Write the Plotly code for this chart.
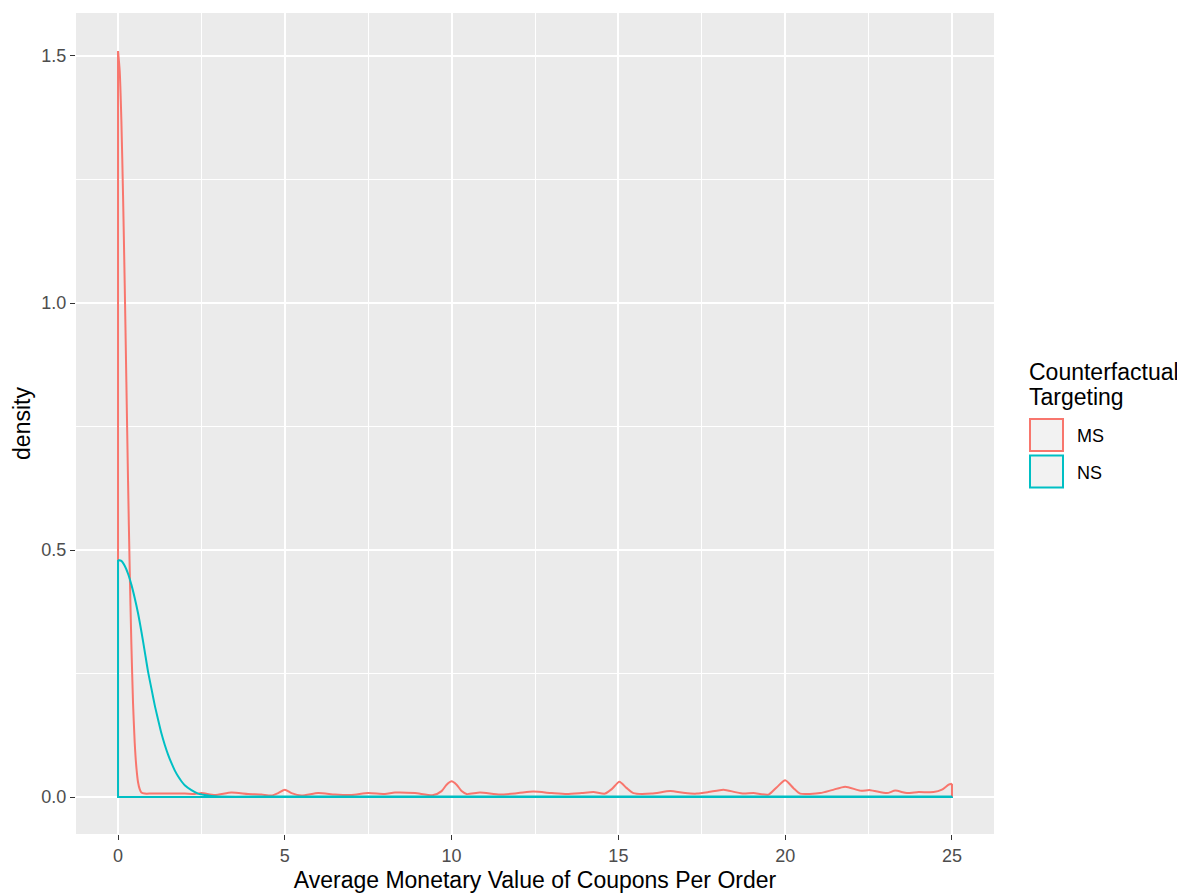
import plotly.graph_objects as go

# MS density curve (x, density)
ms_x = [0, 0.05, 0.1, 0.15, 0.2, 0.25, 0.3, 0.35, 0.4, 0.45, 0.5, 0.55, 0.6, 0.65, 0.7, 0.8,
        1.0, 1.5, 2.0, 2.3, 2.5, 2.9, 3.4, 3.9, 4.3, 4.6, 4.8, 5.0, 5.2, 5.5, 6.0, 6.5, 7.0,
        7.5, 8.0, 8.3, 8.9, 9.45, 9.7, 9.85, 10.0, 10.15, 10.3, 10.45, 10.85, 11.45, 12.0,
        12.45, 13.0, 13.45, 13.9, 14.25, 14.6, 14.8, 15.03, 15.25, 15.45, 16.0, 16.55, 17.0,
        17.35, 17.7, 18.15, 18.5, 18.75, 19.05, 19.5, 19.75, 20.0, 20.25, 20.45, 21.05, 21.4,
        21.8, 22.25, 22.55, 23.05, 23.3, 23.65, 24.0, 24.45, 24.7, 24.9, 25.0]
ms_y = [1.51, 1.47, 1.37, 1.22, 1.04, 0.84, 0.64, 0.46, 0.31, 0.19, 0.11, 0.06, 0.03, 0.016,
        0.009, 0.007, 0.007, 0.007, 0.007, 0.006, 0.008, 0.004, 0.009, 0.006, 0.005, 0.003,
        0.008, 0.015, 0.008, 0.003, 0.008, 0.005, 0.004, 0.008, 0.006, 0.009, 0.008, 0.004,
        0.012, 0.025, 0.032, 0.025, 0.012, 0.006, 0.009, 0.005, 0.008, 0.011, 0.008, 0.006,
        0.008, 0.010, 0.007, 0.016, 0.031, 0.018, 0.008, 0.007, 0.012, 0.008, 0.007, 0.010,
        0.015, 0.010, 0.007, 0.008, 0.005, 0.020, 0.034, 0.018, 0.007, 0.008, 0.014, 0.021,
        0.013, 0.014, 0.008, 0.013, 0.008, 0.010, 0.010, 0.015, 0.025, 0.027]

# NS density curve (x, density)
ns_x = [0, 0.1, 0.2, 0.3, 0.4, 0.5, 0.6, 0.7, 0.8, 0.9, 1.0, 1.1, 1.2, 1.3, 1.4, 1.5, 1.6,
        1.7, 1.8, 1.9, 2.0, 2.2, 2.4, 2.6, 2.8, 3.0, 5.0, 10.0, 15.0, 20.0, 25.0]
ns_y = [0.480, 0.478, 0.468, 0.452, 0.430, 0.403, 0.372, 0.335, 0.295, 0.254, 0.220, 0.186,
        0.157, 0.129, 0.106, 0.086, 0.069, 0.054, 0.042, 0.032, 0.024, 0.014, 0.007, 0.004,
        0.002, 0.001, 0.001, 0.001, 0.001, 0.001, 0.001]

groups = ["MS", "NS"]
colors = {"MS": "#F8766D", "NS": "#00BFC4"}
legend_title_lines = ["Counterfactual", "Targeting"]

x_ticks = [0, 5, 10, 15, 20, 25]
y_ticks = [0.0, 0.5, 1.0, 1.5]

fig = go.Figure()
for g, xs, ys in [("MS", ms_x, ms_y), ("NS", ns_x, ns_y)]:
    # curve
    fig.add_trace(go.Scatter(x=xs, y=ys, mode="lines", name=g,
                             line=dict(color=colors[g], width=2, shape="spline", smoothing=0.6),
                             showlegend=False, hoverinfo="skip"))
    # closing outline (ends + baseline)
    fig.add_trace(go.Scatter(x=[xs[-1], xs[-1], xs[0], xs[0]], y=[ys[-1], 0, 0, ys[0]],
                             mode="lines", line=dict(color=colors[g], width=2),
                             showlegend=False, hoverinfo="skip"))

# page body has an 8px margin, so the figure is sized/offset to compensate
FW, FH = 1177, 887
ML, MR, MT, MB = 68, 191, 5, 61
OFF = 8

font = "Liberation Sans, Arial, sans-serif"
fig.update_layout(
    width=FW, height=FH,
    margin=dict(l=ML, r=MR, t=MT, b=MB),
    paper_bgcolor="white", plot_bgcolor="#EBEBEB",
    font=dict(family=font),
    xaxis=dict(range=[-1.26, 26.26], tickvals=x_ticks, ticktext=[str(v) for v in x_ticks],
               showgrid=True, gridcolor="white", gridwidth=1.5, zeroline=False,
               automargin=False,
               ticks="outside", ticklen=5, tickcolor="#333333", tickwidth=1,
               tickfont=dict(size=18, color="#4D4D4D"),
               minor=dict(tickvals=[2.5, 7.5, 12.5, 17.5, 22.5], showgrid=True,
                          gridcolor="white", gridwidth=0.7, ticks=""),
               title=dict(text="Average Monetary Value of Coupons Per Order",
                          font=dict(size=23, color="black"), standoff=7)),
    yaxis=dict(range=[-0.0748, 1.587], tickvals=y_ticks, ticktext=["0.0", "0.5", "1.0", "1.5"],
               showgrid=True, gridcolor="white", gridwidth=1.5, zeroline=False,
               automargin=False,
               ticks="outside", ticklen=5, tickcolor="#333333", tickwidth=1,
               tickfont=dict(size=18, color="#4D4D4D"),
               minor=dict(tickvals=[0.25, 0.75, 1.25], showgrid=True,
                          gridcolor="white", gridwidth=0.7, ticks=""),
               title=dict(text="density", font=dict(size=23, color="black"), standoff=4)),
)

# Legend (ggplot style), positions given in page pixels
def px2paper_x(p):
    return (p - OFF - ML) / (FW - ML - MR)
def px2paper_y(p):
    return 1 - (p - OFF - MT) / (FH - MT - MB)

for i, line in enumerate(legend_title_lines):
    fig.add_annotation(x=px2paper_x(1027), y=px2paper_y(372 + i * 25), xref="paper", yref="paper",
                       text=line, showarrow=False, xanchor="left", yanchor="middle",
                       align="left", font=dict(size=23, color="black", family=font))
for i, g in enumerate(groups):
    top = 418 + i * 36.5
    fig.add_shape(type="rect", xref="paper", yref="paper",
                  x0=px2paper_x(1030), x1=px2paper_x(1063),
                  y0=px2paper_y(top + 1), y1=px2paper_y(top + 33),
                  fillcolor="#F2F2F2", line=dict(color=colors[g], width=2))
    fig.add_annotation(x=px2paper_x(1075), y=px2paper_y(top + 18), xref="paper", yref="paper",
                       text=g, showarrow=False, xanchor="left", yanchor="middle",
                       font=dict(size=18, color="black", family=font))

fig.write_html("out.html")
